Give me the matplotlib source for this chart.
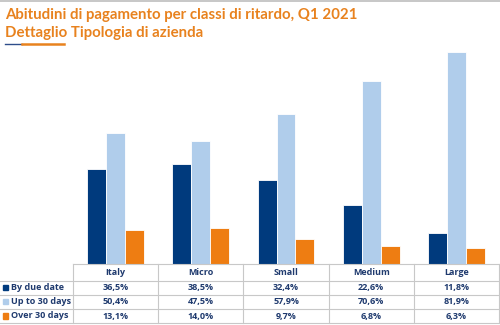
import matplotlib
matplotlib.use("Agg")
import matplotlib.pyplot as plt
from matplotlib.lines import Line2D
from matplotlib.patches import Rectangle

categories = ["Italy", "Micro", "Small", "Medium", "Large"]
series_names = ["By due date", "Up to 30 days", "Over 30 days"]
by_due_date = [36.5, 38.5, 32.4, 22.6, 11.8]
up_to_30 = [50.4, 47.5, 57.9, 70.6, 81.9]
over_30 = [13.1, 14.0, 9.7, 6.8, 6.3]
series = [by_due_date, up_to_30, over_30]
colors = ["#003A7D", "#B0CDEB", "#EE7D12"]
title1 = "Abitudini di pagamento per classi di ritardo, Q1 2021"
title2 = "Dettaglio Tipologia di azienda"

W, H = 500, 325
fig = plt.figure(figsize=(W / 100, H / 100), dpi=100)
FONT = "Open Sans"
TFONT = "Lato"
txt_col = "#1F3A6E"
orange = "#E8821E"
grid_col = "#C8C8C8"

def fx(px):
    return px / W

def fy(py):
    return 1 - py / H

# Axes for bars
left_px, right_px, bottom_px, top_px = 73, 499, 264, 45
ax = fig.add_axes([fx(left_px), fy(bottom_px), fx(right_px - left_px), (bottom_px - top_px) / H])
n = len(categories)
bw = 0.222
for i, (vals, c) in enumerate(zip(series, colors)):
    xs = [k + (i - 1) * bw for k in range(n)]
    ax.bar(xs, vals, width=bw, color=c, edgecolor="white", linewidth=0.6)
ax.set_xlim(-0.5, n - 0.5)
ax.set_ylim(0, (bottom_px - top_px) / 2.59)
ax.axis("off")

# Top border
fig.add_artist(Line2D([0, 1], [fy(0.8), fy(0.8)], color="#BDBDBD", lw=1.2))

# Titles
fig.text(fx(5), fy(15), title1, color=orange, fontsize=10.8, fontweight="bold",
         family=TFONT, va="center", ha="left")
fig.text(fx(5), fy(33), title2, color=orange, fontsize=10.8, fontweight="bold",
         family=TFONT, va="center", ha="left")
fig.add_artist(Line2D([fx(5), fx(22)], [fy(44), fy(44)], color="#2E4D8A", lw=1.0))
fig.add_artist(Line2D([fx(22), fx(64)], [fy(43.6), fy(43.6)], color=orange, lw=1.8))

# Table
col_w = (right_px - left_px) / n
row_lines = [264, 281, 294.5, 309, 323]
fig.add_artist(Line2D([fx(left_px), fx(right_px)], [fy(row_lines[0])] * 2, color=grid_col, lw=0.8))
for yl in row_lines[1:]:
    fig.add_artist(Line2D([fx(0), fx(right_px)], [fy(yl)] * 2, color=grid_col, lw=0.8))
for k in range(n + 1):
    xl = left_px + k * col_w
    fig.add_artist(Line2D([fx(xl)] * 2, [fy(row_lines[0]), fy(row_lines[-1])], color=grid_col, lw=0.8))

fs = 6.5
for k, cat in enumerate(categories):
    cx = left_px + (k + 0.5) * col_w
    fig.text(fx(cx), fy((row_lines[0] + row_lines[1]) / 2), cat, ha="center", va="center",
             color=txt_col, fontsize=fs, fontweight="bold", family=FONT)
    for r, vals in enumerate(series):
        cy = (row_lines[r + 1] + row_lines[r + 2]) / 2
        fig.text(fx(cx), fy(cy), f"{vals[k]:.1f}%".replace(".", ","), ha="center", va="center",
                 color=txt_col, fontsize=fs, fontweight="bold", family=FONT)

for r, (name, c) in enumerate(zip(series_names, colors)):
    cy = (row_lines[r + 1] + row_lines[r + 2]) / 2
    fig.add_artist(Rectangle((fx(3), fy(cy + 2.6)), fx(5.2), 5.2 / H, color=c))
    fig.text(fx(11), fy(cy), name, ha="left", va="center", color=txt_col,
             fontsize=fs, fontweight="bold", family=FONT)

fig.savefig("out.png", dpi=100)
